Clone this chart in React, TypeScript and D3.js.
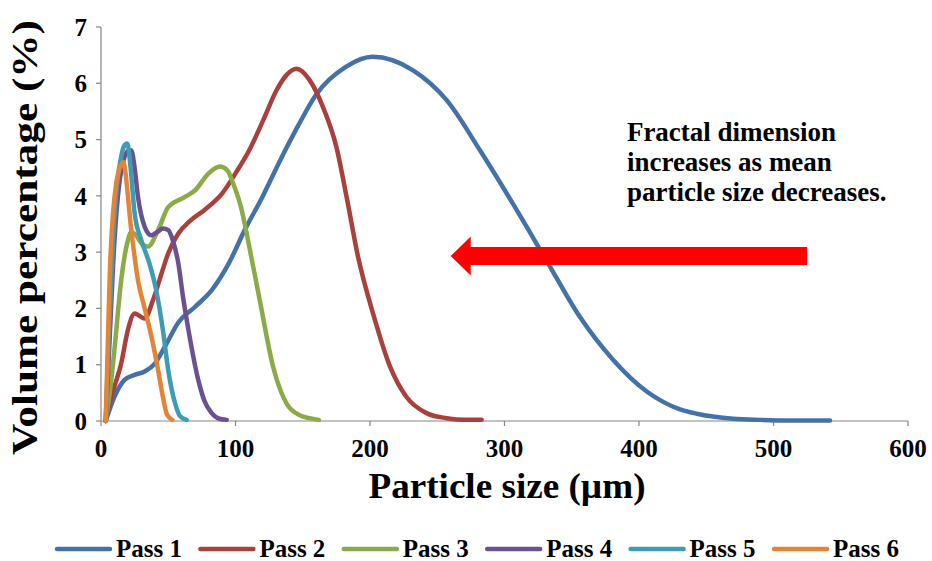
import React from "react";
import * as d3 from "d3";

type Pt = [number, number];

const seriesNames = ["Pass 1", "Pass 2", "Pass 3", "Pass 4", "Pass 5", "Pass 6"];
const seriesColors = ["#4472A8", "#A9403C", "#8BAA48", "#6C5190", "#3E9BB4", "#E38436"];

const pass1: Pt[] = [
  [3.5, 0], [10, 0.43], [17.5, 0.73], [25, 0.82], [32.5, 0.88], [40, 1.02], [47.5, 1.32],
  [57.5, 1.75], [70, 2.03], [82.5, 2.33], [95, 2.8], [107, 3.4], [120, 3.98], [133, 4.62],
  [146, 5.22], [160, 5.8], [182, 6.29], [202, 6.47], [232, 6.23], [257, 5.7], [282, 4.8],
  [306, 3.87], [331, 2.86], [356, 1.85], [381, 1.08], [406, 0.52], [418, 0.34], [430, 0.21],
  [443, 0.13], [455, 0.08], [470, 0.04], [490, 0.02], [515, 0.01], [542, 0.01],
];
const pass2: Pt[] = [
  [3.5, 0], [7.7, 0.43], [15, 1.02], [20, 1.62], [25, 1.91], [32.5, 1.82], [38.7, 2.15],
  [45, 2.62], [50, 2.98], [57.5, 3.33], [66, 3.55], [77, 3.75], [90, 4.04], [100, 4.4],
  [110, 4.8], [120.7, 5.35], [130.6, 5.88], [138, 6.15], [145.5, 6.26], [155, 6.06],
  [165, 5.58], [175, 4.87], [183, 3.93], [191, 2.93], [203, 1.85], [215, 0.96], [227, 0.43],
  [242, 0.14], [257, 0.05], [270, 0.02], [283, 0.02],
];
const pass3: Pt[] = [
  [3.5, 0], [7.5, 0.7], [10.2, 1.32], [15, 2.5], [20, 3.21], [22.5, 3.36], [26, 3.3],
  [30, 3.16], [35, 3.1], [42.4, 3.39], [50, 3.8], [62.5, 3.98], [70, 4.1], [80, 4.4],
  [88.5, 4.52], [94, 4.45], [98.3, 4.22], [104.6, 3.75], [108.3, 3.33], [118, 2.15],
  [128, 0.96], [138, 0.31], [148, 0.1], [155, 0.05], [162, 0.02],
];
const pass4: Pt[] = [
  [3.5, 0], [6.5, 1.5], [10, 3.2], [13.5, 4.2], [17, 4.65], [20, 4.8], [22.5, 4.81],
  [25, 4.5], [27.5, 3.98], [30, 3.65], [32.5, 3.45], [37.4, 3.3], [42, 3.36], [46, 3.42],
  [50, 3.39], [53.5, 3.2], [57.5, 2.8], [61, 2.2], [65, 1.62], [72.3, 0.73], [77, 0.35],
  [82.3, 0.14], [88, 0.04], [93.5, 0.02],
];
const pass5: Pt[] = [
  [3.5, 0], [6, 1.6], [9, 3.2], [12, 4.2], [15, 4.7], [17.5, 4.9], [19.6, 4.93], [22, 4.5],
  [25, 3.69], [30, 3.21], [36, 2.8], [41, 2.33], [46, 1.62], [50, 0.9], [55, 0.32],
  [59, 0.08], [63.7, 0.02],
];
const pass6: Pt[] = [
  [3.5, 0], [5, 1.3], [6.5, 2.6], [9, 3.7], [11.5, 4.25], [14, 4.5], [16.5, 4.6], [18, 4.45],
  [20, 4.0], [22, 3.5], [24, 3.1], [27.5, 2.5], [32.5, 2.0], [37.5, 1.5], [42.5, 0.9],
  [46, 0.43], [49, 0.12], [53, 0.02],
];
const allSeries = [pass1, pass2, pass3, pass4, pass5, pass6];

const xTicks = [0, 100, 200, 300, 400, 500, 600];
const yTicks = [0, 1, 2, 3, 4, 5, 6, 7];

const annotationLines = ["Fractal dimension", "increases as mean", "particle size decreases."];
// arrow in data coordinates: tip and tail
const arrowTip: Pt = [260, 2.93];
const arrowTail: Pt = [525, 2.93];

const W = 932;
const H = 561;
const FONT = "Liberation Serif";

export default function App() {
  const x = d3.scaleLinear().domain([0, 600]).range([101, 908]);
  const y = d3.scaleLinear().domain([0, 7]).range([421, 27]);
  const line = d3
    .line<Pt>()
    .x((d) => x(d[0]))
    .y((d) => y(d[1]))
    .curve(d3.curveMonotoneX);

  const tipX = x(arrowTip[0]);
  const tailX = x(arrowTail[0]);
  const ay = y(arrowTip[1]);
  const headLen = 20;
  const headHalf = 19.5;
  const shaftHalf = 9;
  const arrowPts = [
    [tipX, ay],
    [tipX + headLen, ay - headHalf],
    [tipX + headLen, ay - shaftHalf],
    [tailX, ay - shaftHalf],
    [tailX, ay + shaftHalf],
    [tipX + headLen, ay + shaftHalf],
    [tipX + headLen, ay + headHalf],
  ];

  const legendX0 = 57;
  const legendStep = 143.4;
  const legendY = 549;
  const ts = { fontFamily: FONT, fontWeight: 700 } as React.CSSProperties;

  return (
    <svg
      width={W}
      height={H}
      style={{ position: "absolute", left: 0, top: 0, background: "#fff" }}
    >
      <rect x={0} y={0} width={W} height={H} fill="#fff" />
      {/* axes */}
      <line x1={x(0)} x2={x(0)} y1={y(0)} y2={y(7)} stroke="#868686" strokeWidth={1.2} />
      <line x1={x(0)} x2={x(600)} y1={y(0)} y2={y(0)} stroke="#868686" strokeWidth={1.2} />
      {yTicks.map((t) => (
        <g key={"y" + t}>
          <line x1={x(0) - 5} x2={x(0)} y1={y(t)} y2={y(t)} stroke="#868686" strokeWidth={1.2} />
          <text style={ts} x={x(0) - 14} y={y(t)} dy="0.35em" textAnchor="end" fontSize={25}>
            {t}
          </text>
        </g>
      ))}
      {xTicks.map((t) => (
        <g key={"x" + t}>
          <line x1={x(t)} x2={x(t)} y1={y(0)} y2={y(0) + 5} stroke="#868686" strokeWidth={1.2} />
          <text style={ts} x={x(t)} y={457} textAnchor="middle" fontSize={25}>
            {t}
          </text>
        </g>
      ))}
      {/* titles */}
      <text style={ts} x={507} y={498} textAnchor="middle" fontSize={35} textLength={277} lengthAdjust="spacingAndGlyphs">
        Particle size (µm)
      </text>
      <text
        style={ts}
        transform={`translate(37,${237.5}) rotate(-90)`}
        textAnchor="middle"
        fontSize={36}
        textLength={435}
        lengthAdjust="spacingAndGlyphs"
      >
        Volume percentage (%)
      </text>
      {/* series */}
      {allSeries.map((s, i) => (
        <path
          key={seriesNames[i]}
          d={line(s) || ""}
          fill="none"
          stroke={seriesColors[i]}
          strokeWidth={4.5}
          strokeLinejoin="round"
          strokeLinecap="round"
        />
      ))}
      {/* annotation */}
      {annotationLines.map((t, i) => (
        <text style={ts} key={t} x={x(391)} y={y(4.98) + i * 30} fontSize={27}>
          {t}
        </text>
      ))}
      <polygon points={arrowPts.map((p) => p.join(",")).join(" ")} fill="#FF0000" />
      {/* legend */}
      {seriesNames.map((n, i) => {
        const lx = legendX0 + i * legendStep;
        return (
          <g key={"lg" + n}>
            <line x1={lx} x2={lx + 53} y1={legendY} y2={legendY} stroke={seriesColors[i]} strokeWidth={4.5} strokeLinecap="round" />
            <text style={ts} x={lx + 59} y={legendY + 8} fontSize={25}>
              {n}
            </text>
          </g>
        );
      })}
    </svg>
  );
}
